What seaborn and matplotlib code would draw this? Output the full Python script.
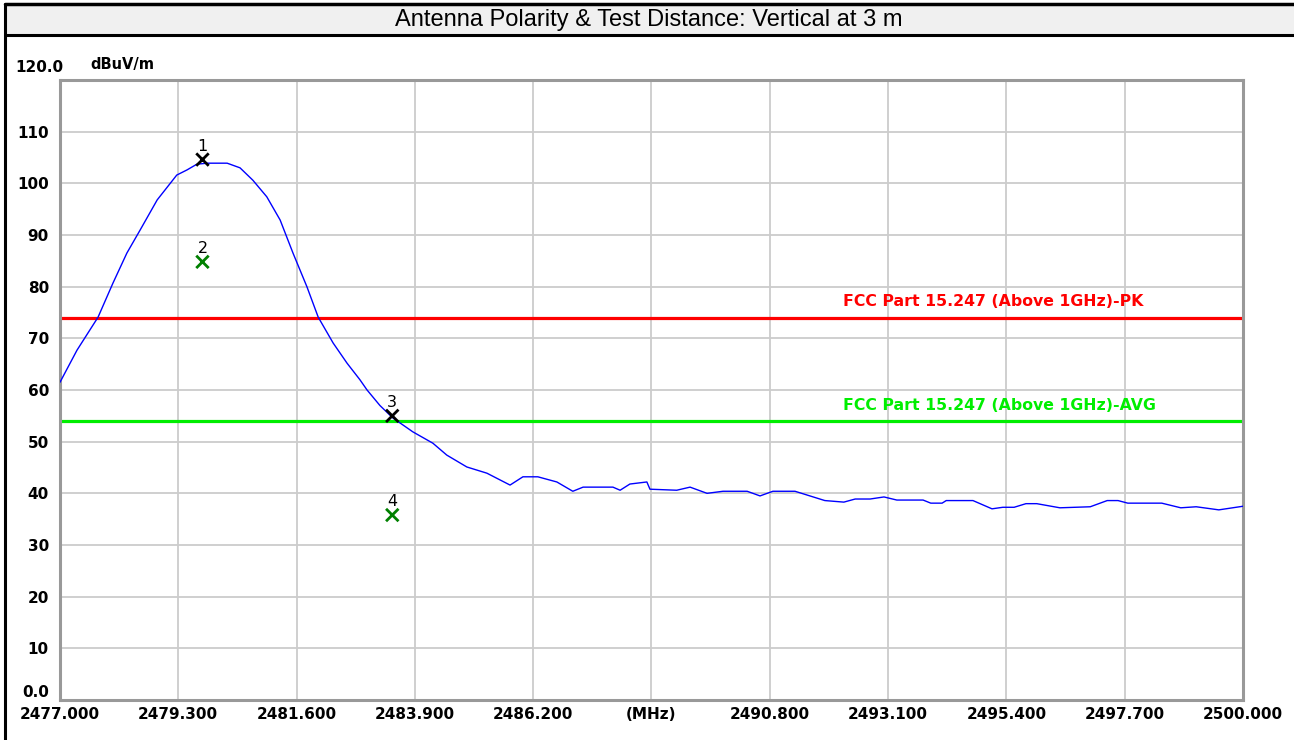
import numpy as np
import pandas as pd
import seaborn as sns
import matplotlib.pyplot as plt
from matplotlib.patches import Rectangle
from matplotlib.lines import Line2D

# trace (MHz, dBuV/m)
freq = [2477.00, 2477.33, 2477.74, 2478.03, 2478.30, 2478.56, 2478.89, 2479.27,
        2479.47, 2479.66, 2479.86, 2480.25, 2480.50, 2480.75, 2481.02, 2481.28,
        2481.53, 2481.80, 2482.02, 2482.31, 2482.58, 2482.83, 2482.97, 2483.22,
        2483.47, 2483.86, 2484.25, 2484.52, 2484.91, 2485.30, 2485.75, 2486.00,
        2486.29, 2486.66, 2486.97, 2487.17, 2487.75, 2487.89, 2488.08, 2488.41,
        2488.47, 2488.99, 2489.25, 2489.58, 2489.89, 2490.36, 2490.61, 2490.86,
        2491.29, 2491.87, 2492.24, 2492.46, 2492.75, 2493.02, 2493.27, 2493.78,
        2493.93, 2494.15, 2494.23, 2494.75, 2495.12, 2495.33, 2495.55, 2495.78,
        2495.99, 2496.44, 2497.03, 2497.36, 2497.57, 2497.76, 2498.42, 2498.79,
        2499.09, 2499.53, 2500.00]
level = [61.5, 67.7, 74.1, 80.7, 86.5, 91.0, 96.8, 101.6,
         102.6, 103.7, 103.9, 103.9, 103.0, 100.6, 97.4, 92.9,
         86.5, 80.0, 74.1, 69.1, 65.2, 62.0, 60.0, 57.0,
         54.6, 51.9, 49.7, 47.4, 45.1, 43.9, 41.6, 43.2,
         43.2, 42.2, 40.4, 41.2, 41.2, 40.6, 41.8, 42.2,
         40.8, 40.6, 41.2, 40.0, 40.4, 40.4, 39.5, 40.4,
         40.4, 38.6, 38.3, 38.9, 38.9, 39.3, 38.7, 38.7,
         38.1, 38.1, 38.6, 38.6, 37.0, 37.3, 37.3, 38.0,
         38.0, 37.2, 37.4, 38.6, 38.6, 38.1, 38.1, 37.2,
         37.4, 36.8, 37.5]

marker_no = ['1', '2', '3', '4']
marker_freq = [2479.77, 2479.77, 2483.46, 2483.46]
marker_level = [104.6, 84.8, 55.0, 35.8]
marker_kind = ['peak', 'avg', 'peak', 'avg']

limit_pk = 74.0
limit_avg = 54.0
xticks = [2477.0, 2479.3, 2481.6, 2483.9, 2486.2, 2488.5, 2490.8, 2493.1, 2495.4, 2497.7, 2500.0]
xlabels = ['2477.000', '2479.300', '2481.600', '2483.900', '2486.200', '(MHz)',
           '2490.800', '2493.100', '2495.400', '2497.700', '2500.000']
yticks = [0, 10, 20, 30, 40, 50, 60, 70, 80, 90, 100, 110]
ylabels = ['0.0', '10', '20', '30', '40', '50', '60', '70', '80', '90', '100', '110']

df = pd.DataFrame({'freq': freq, 'level': level})
mk = pd.DataFrame({'no': marker_no, 'freq': marker_freq, 'level': marker_level, 'kind': marker_kind})

sns.set_style('white')
plt.rcParams['font.family'] = ['DejaVu Sans']
plt.rcParams['text.color'] = 'black'

W, H = 1294, 740
fig = plt.figure(figsize=(W / 100, H / 100), dpi=100)
ax = fig.add_axes([60 / W, 1 - 700 / H, (1243 - 60) / W, (700 - 80) / H])

ax.axhline(limit_pk, color='#ff0000', lw=2.3, zorder=2)
ax.axhline(limit_avg, color='#00ee00', lw=2.3, zorder=2)
sns.lineplot(data=df, x='freq', y='level', color='#0000ff', lw=1.0, ax=ax, zorder=3)
sns.scatterplot(data=mk, x='freq', y='level', hue='kind', palette={'peak': 'black', 'avg': '#008000'},
                marker='x', s=80, linewidth=2, legend=False, ax=ax, zorder=4)
for _, r in mk.iterrows():
    ax.annotate(r['no'], (r['freq'], r['level']), xytext=(0, 4), textcoords='offset points',
                ha='center', va='bottom', fontsize=11.5, color='black')

ax.text(2492.22, limit_pk + 1.6, 'FCC Part 15.247 (Above 1GHz)-PK', color='#ff0000',
        fontsize=11.3, fontweight='bold', va='bottom')
ax.text(2492.22, limit_avg + 1.6, 'FCC Part 15.247 (Above 1GHz)-AVG', color='#00ee00',
        fontsize=11.3, fontweight='bold', va='bottom')

ax.set_xlim(2477, 2500)
ax.set_ylim(0, 120)
ax.set_xticks(xticks)
ax.set_xticklabels(xlabels, fontsize=11, fontweight='bold')
ax.set_yticks(yticks)
ax.set_yticklabels(ylabels, fontsize=11, fontweight='bold')
ax.get_yticklabels()[0].set_va('bottom')
ax.tick_params(length=0, pad=5, colors='black')
ax.tick_params(axis='y', pad=8)
ax.grid(True, color='#cccccc', lw=1.3)
ax.set_axisbelow(True)
ax.set_xlabel('')
ax.set_ylabel('')
for s in ax.spines.values():
    s.set_color('#999999')
    s.set_linewidth(2.2)

fig.text(15 / W, 1 - 67 / H, '120.0', fontsize=11, fontweight='bold', va='center', ha='left')
fig.text(90 / W, 1 - 65 / H, 'dBuV/m', fontsize=10.5, fontweight='bold', va='center', ha='left')

# title bar and frame
fig.add_artist(Rectangle((5 / W, 1 - 35 / H), 1 - 5 / W, 31 / H, transform=fig.transFigure,
                         facecolor='#f0f0f0', edgecolor='none', zorder=0))
fig.add_artist(Line2D([5 / W, 1], [1 - 4 / H, 1 - 4 / H], color='black', lw=2.5, transform=fig.transFigure))
fig.add_artist(Line2D([5 / W, 1], [1 - 35 / H, 1 - 35 / H], color='black', lw=2.2, transform=fig.transFigure))
fig.add_artist(Line2D([5 / W, 5 / W], [0, 1 - 4 / H], color='black', lw=2.2, transform=fig.transFigure))
fig.text(0.5 + 2 / W, 1 - 20 / H, 'Antenna Polarity & Test Distance: Vertical at 3 m',
         family=['Liberation Sans', 'DejaVu Sans'], fontsize=17, ha='center', va='center', color='black')

fig.savefig('out.png', dpi=100)
